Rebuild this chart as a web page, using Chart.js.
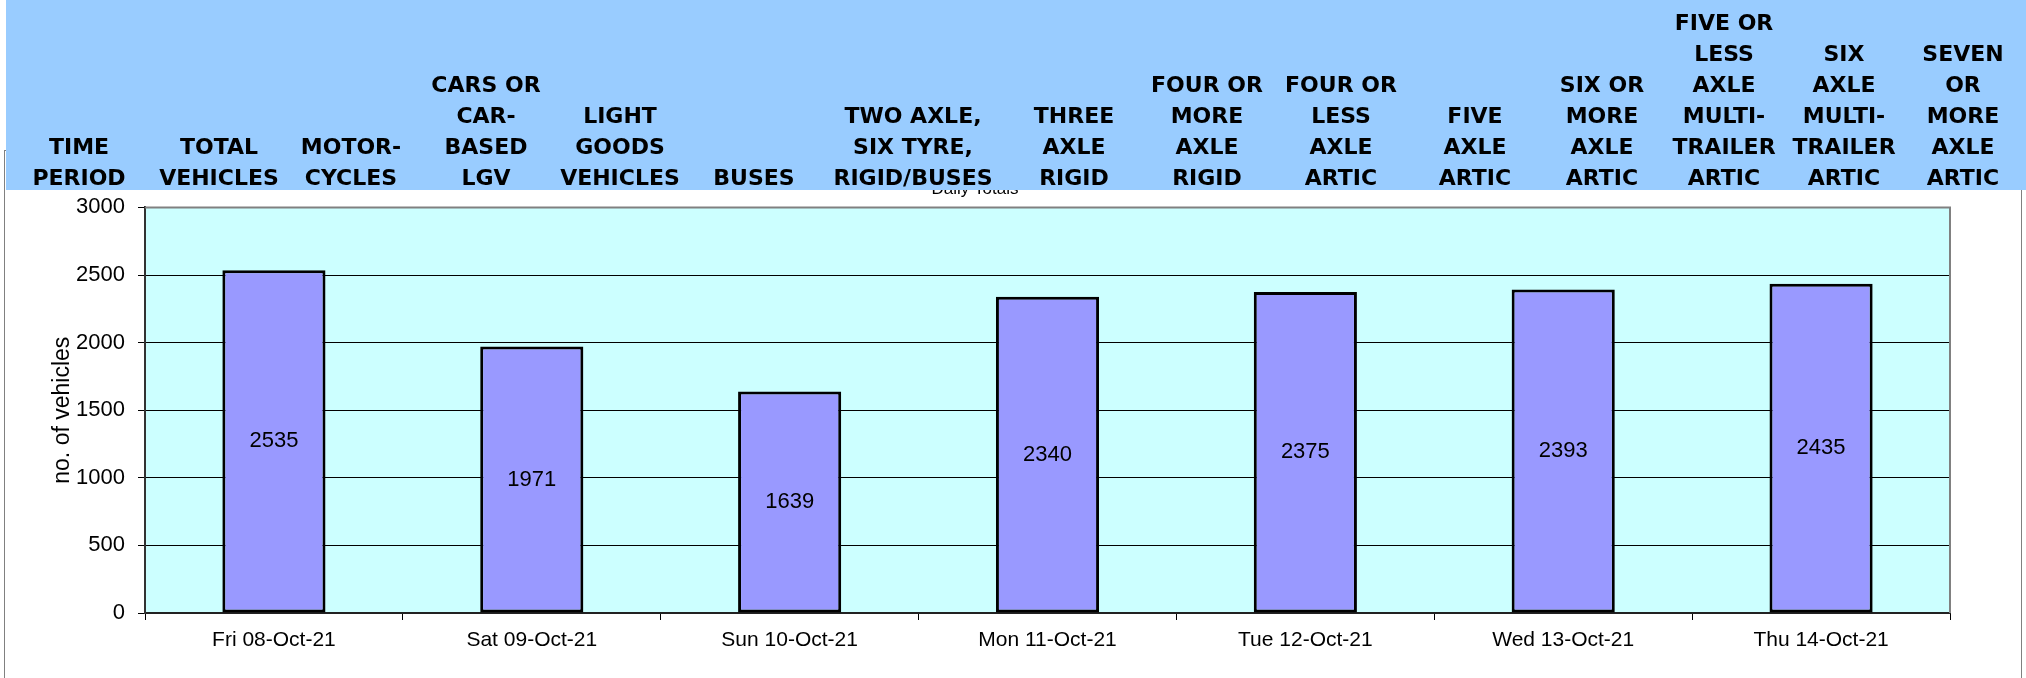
<!DOCTYPE html>
<html>
<head>
  <meta charset="utf-8">
  <title>Daily Totals</title>
  <script src="https://cdn.jsdelivr.net/npm/chart.js"></script>
  <style>
    body { margin: 0; padding: 0; background: #fff; font-family: "Liberation Sans", Arial, sans-serif; }
    #wrap { position: relative; width: 2026px; height: 678px; overflow: hidden; }
    #chart { position: absolute; left: 0; top: 0; }
    #header-band {
      position: absolute; left: 6px; top: 0; width: 2020px; height: 190px;
      background: #99ccff; z-index: 2;
    }
    #header-cols { position: absolute; left: 0; top: 0; width: 2026px; height: 193px; z-index: 3; }
    .hcol {
      position: absolute; bottom: 0; width: 170px;
      font-family: "DejaVu Sans", Verdana, sans-serif; font-weight: bold;
      font-size: 22px; line-height: 31px; text-align: center;
      white-space: pre-line; color: #000;
    }
  </style>
</head>
<body>
  <div id="wrap">
    <canvas id="chart" width="2026" height="678"></canvas>
    <div id="header-band"></div>
    <div id="header-cols"></div>
  </div>

  <script>
    // chart data
    const timePeriods = ['Fri 08-Oct-21', 'Sat 09-Oct-21', 'Sun 10-Oct-21', 'Mon 11-Oct-21',
                         'Tue 12-Oct-21', 'Wed 13-Oct-21', 'Thu 14-Oct-21'];
    const dailyTotals = [2535, 1971, 1639, 2340, 2375, 2393, 2435];
    const yTickValues = [0, 500, 1000, 1500, 2000, 2500, 3000];

    // column headings of the table sitting above the chart
    const headerLabels = [
      ['TIME', 'PERIOD'],
      ['TOTAL', 'VEHICLES'],
      ['MOTOR-', 'CYCLES'],
      ['CARS OR', 'CAR-', 'BASED', 'LGV'],
      ['LIGHT', 'GOODS', 'VEHICLES'],
      ['BUSES'],
      ['TWO AXLE,', 'SIX TYRE,', 'RIGID/BUSES'],
      ['THREE', 'AXLE', 'RIGID'],
      ['FOUR OR', 'MORE', 'AXLE', 'RIGID'],
      ['FOUR OR', 'LESS', 'AXLE', 'ARTIC'],
      ['FIVE', 'AXLE', 'ARTIC'],
      ['SIX OR', 'MORE', 'AXLE', 'ARTIC'],
      ['FIVE OR', 'LESS', 'AXLE', 'MULTI-', 'TRAILER', 'ARTIC'],
      ['SIX', 'AXLE', 'MULTI-', 'TRAILER', 'ARTIC'],
      ['SEVEN', 'OR', 'MORE', 'AXLE', 'ARTIC']
    ];
    const headerCentres = [79, 219, 351, 486, 620, 754, 913, 1074, 1207, 1341, 1475, 1602, 1724, 1844, 1963];

    const cols = document.getElementById('header-cols');
    headerLabels.forEach((lines, i) => {
      const d = document.createElement('div');
      d.className = 'hcol';
      d.style.left = (headerCentres[i] - 85) + 'px';
      d.textContent = lines.join('\n');
      cols.appendChild(d);
    });

    const fontFamily = '"Liberation Sans", Arial, sans-serif';
    const labelFont = { family: fontFamily, size: 22 };

    // plot background, outer frame and gray top/right plot border
    const frame = {
      id: 'frame',
      beforeDraw(chart) {
        const { ctx, chartArea: a } = chart;
        ctx.save();
        ctx.fillStyle = '#ffffff';
        ctx.fillRect(0, 0, chart.width, chart.height);
        ctx.strokeStyle = '#808080';
        ctx.lineWidth = 1;
        ctx.strokeRect(4.5, 150.5, 2017, 600);
        ctx.fillStyle = '#ccffff';
        ctx.fillRect(a.left, a.top, a.right - a.left, a.bottom - a.top);
        ctx.restore();
      },
      afterDraw(chart) {
        const { ctx, chartArea: a } = chart;
        ctx.save();
        ctx.strokeStyle = '#808080';
        ctx.lineWidth = 2;
        ctx.beginPath();
        ctx.moveTo(a.left, a.top);
        ctx.lineTo(a.right, a.top);
        ctx.lineTo(a.right, a.bottom);
        ctx.stroke();
        ctx.restore();
      }
    };

    // value written in the middle of each bar
    const barValues = {
      id: 'barValues',
      afterDatasetsDraw(chart) {
        const { ctx } = chart;
        const meta = chart.getDatasetMeta(0);
        ctx.save();
        ctx.font = '22px ' + fontFamily;
        ctx.fillStyle = '#000';
        ctx.textAlign = 'center';
        ctx.textBaseline = 'middle';
        meta.data.forEach((bar, i) => {
          ctx.fillText(String(dailyTotals[i]), bar.x, (bar.y + bar.base) / 2);
        });
        ctx.restore();
      }
    };

    new Chart(document.getElementById('chart'), {
      type: 'bar',
      data: {
        labels: timePeriods,
        datasets: [{
          label: 'Daily Totals',
          data: dailyTotals,
          backgroundColor: '#9999ff',
          borderColor: '#000000',
          borderWidth: 3,
          borderSkipped: false,
          categoryPercentage: 1.0,
          barPercentage: 0.4
        }]
      },
      options: {
        responsive: false,
        animation: false,
        devicePixelRatio: 1,
        layout: { padding: { left: 0, right: 76, top: 179, bottom: 0 } },
        plugins: {
          legend: { display: false },
          tooltip: { enabled: false },
          title: {
            display: true,
            text: 'Daily Totals',
            color: '#000',
            font: { family: fontFamily, size: 17, weight: 'normal' },
            padding: { top: 0, bottom: 8 }
          }
        },
        scales: {
          x: {
            grid: { drawOnChartArea: false, drawTicks: true, tickLength: 7, color: '#000', offset: true },
            border: { color: '#222', width: 2 },
            ticks: { color: '#000', font: { family: fontFamily, size: 21 }, padding: 8, maxRotation: 0 },
            afterFit: s => { s.height = 65; }
          },
          y: {
            min: 0,
            max: 3000,
            afterBuildTicks: s => { s.ticks = yTickValues.map(v => ({ value: v })); },
            grid: { color: '#000', lineWidth: 1, tickLength: 7 },
            border: { color: '#333', width: 2 },
            ticks: { color: '#000', font: labelFont, padding: 13, callback: v => String(v) },
            title: {
              display: true,
              text: 'no. of vehicles',
              color: '#000',
              font: { family: fontFamily, size: 23 },
              padding: { top: 49, bottom: 0 }
            },
            afterFit: s => { s.width = 145; }
          }
        }
      },
      plugins: [frame, barValues]
    });
  </script>
</body>
</html>
